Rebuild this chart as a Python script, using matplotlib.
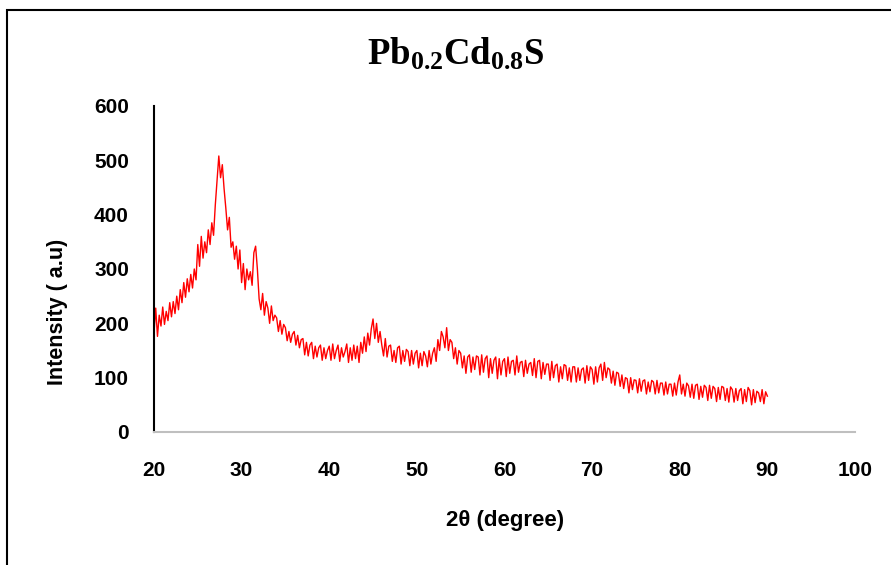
import numpy as np
import matplotlib
matplotlib.use('Agg')
import matplotlib.pyplot as plt
from matplotlib import font_manager
from matplotlib.patches import Rectangle

# XRD pattern, one value every 0.2 degree from 20 to 90
two_theta_start = 20.0
two_theta_step = 0.2
intensity = [
    182, 228, 176, 215, 195,   # 20
    230, 198, 222, 205, 238,   # 21
    212, 240, 218, 250, 225,   # 22
    262, 238, 275, 248, 282,   # 23
    258, 290, 265, 300, 280,   # 24
    345, 305, 360, 320, 350,   # 25
    330, 372, 345, 385, 362,   # 26
    418, 462, 508, 468, 492,   # 27
    448, 412, 372, 395, 340,   # 28
    350, 318, 342, 300, 335,   # 29
    275, 310, 262, 300, 280,   # 30
    295, 270, 330, 342, 300,   # 31
    245, 225, 255, 215, 240,   # 32
    228, 200, 232, 205, 215,   # 33
    210, 185, 205, 180, 198,   # 34
    192, 168, 185, 165, 180,   # 35
    185, 160, 178, 155, 170,   # 36
    172, 142, 165, 140, 160,   # 37
    165, 135, 158, 138, 155,   # 38
    160, 132, 155, 135, 150,   # 39
    158, 132, 162, 135, 150,   # 40
    160, 130, 155, 138, 148,   # 41
    162, 128, 155, 132, 160,   # 42
    135, 158, 128, 165, 145,   # 43
    175, 148, 182, 160, 190,   # 44
    208, 172, 200, 165, 185,   # 45
    160, 140, 172, 138, 158,   # 46
    160, 130, 150, 128, 155,   # 47
    158, 125, 150, 130, 152,   # 48
    148, 122, 150, 125, 145,   # 49
    150, 118, 145, 122, 148,   # 50
    140, 120, 150, 125, 145,   # 51
    155, 130, 170, 150, 185,   # 52
    175, 155, 192, 150, 170,   # 53
    165, 135, 155, 125, 150,   # 54
    145, 118, 140, 108, 138,   # 55
    142, 110, 138, 115, 140,   # 56
    138, 105, 142, 110, 135,   # 57
    140, 100, 135, 108, 132,   # 58
    138, 98, 135, 105, 130,    # 59
    135, 102, 138, 108, 130,   # 60
    132, 105, 140, 110, 128,   # 61
    130, 102, 132, 108, 125,   # 62
    128, 104, 135, 100, 130,   # 63
    132, 98, 128, 106, 125,    # 64
    125, 95, 130, 100, 122,    # 65
    125, 92, 120, 98, 124,     # 66
    122, 95, 118, 92, 120,     # 67
    120, 92, 118, 95, 115,     # 68
    118, 90, 122, 95, 120,     # 69
    115, 88, 120, 92, 118,     # 70
    125, 95, 128, 100, 118,    # 71
    115, 90, 112, 86, 110,     # 72
    108, 84, 105, 80, 100,     # 73
    98, 72, 100, 78, 96,       # 74
    95, 72, 98, 75, 94,        # 75
    96, 70, 92, 74, 95,        # 76
    92, 70, 95, 72, 90,        # 77
    90, 68, 92, 70, 88,        # 78
    88, 66, 90, 68, 92,        # 79
    105, 70, 88, 66, 90,       # 80
    85, 64, 88, 62, 86,        # 81
    88, 60, 84, 64, 86,        # 82
    82, 58, 86, 62, 84,        # 83
    80, 56, 82, 60, 84,        # 84
    82, 58, 80, 55, 83,        # 85
    78, 55, 80, 58, 76,        # 86
    80, 52, 78, 56, 82,        # 87
    76, 50, 78, 54, 75,        # 88
    72, 56, 78, 52, 74,        # 89
    66,                        # 90
]
x_ticks = [20, 30, 40, 50, 60, 70, 80, 90, 100]
y_ticks = [0, 100, 200, 300, 400, 500, 600]

two_theta = two_theta_start + two_theta_step * np.arange(len(intensity))

# pick a narrow bold sans if there is one
names = {f.name for f in font_manager.fontManager.ttflist}
sans = 'Liberation Sans Narrow' if 'Liberation Sans Narrow' in names else 'Liberation Sans'

plt.rcParams['mathtext.fontset'] = 'custom'
plt.rcParams['mathtext.rm'] = 'Liberation Serif:bold'
plt.rcParams['mathtext.it'] = 'Liberation Serif:bold'

fig = plt.figure(figsize=(8.91, 5.65), dpi=100)
ax = fig.add_axes([0.1728, 0.2354, 0.7868, 0.577])

ax.plot(two_theta, intensity, color='#ff0000', lw=1.0)

ax.set_xlim(20, 100)
ax.set_ylim(0, 600)
ax.set_xticks(x_ticks)
ax.set_yticks(y_ticks)
ax.tick_params(length=0)
ax.tick_params(axis='x', pad=21)
ax.tick_params(axis='y', pad=18)
for lab in ax.get_xticklabels() + ax.get_yticklabels():
    lab.set_fontfamily(sans)
    lab.set_fontweight('bold')
    lab.set_fontsize(15)

for s in ['top', 'right']:
    ax.spines[s].set_visible(False)
ax.spines['left'].set_color('black')
ax.spines['left'].set_linewidth(1.5)
ax.spines['bottom'].set_color('#bfbfbf')
ax.spines['bottom'].set_linewidth(1.5)

fig.text(0.065, 0.448, 'Intensity ( a.u)', rotation=90, ha='center', va='center',
         fontfamily=sans, fontweight='bold', fontsize=15.5)
fig.text(0.567, 0.078, '2θ (degree)', ha='center', va='center',
         fontfamily=sans, fontweight='bold', fontsize=16)
fig.text(0.511, 0.905, r'$\mathrm{Pb_{0.2}Cd_{0.8}S}$', ha='center', va='center',
         fontsize=26.5)

# outer chart border (cut off at the right and bottom)
fig.patches.append(Rectangle((0.0079, -0.1), 1.2, 0.9823 + 0.1, transform=fig.transFigure,
                             fill=False, edgecolor='black', lw=1.5))

plt.savefig('out.png', dpi=100)
